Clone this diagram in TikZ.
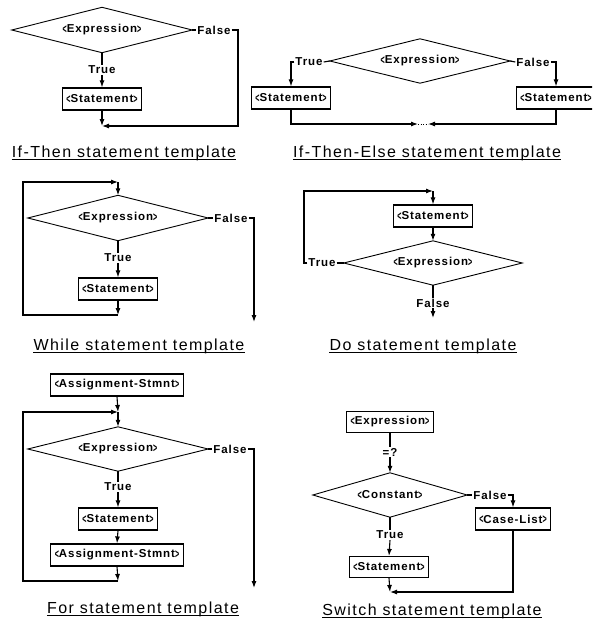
\documentclass[tikz,border=0pt]{standalone}
\usepackage{fontspec}
\usepackage{graphicx}
\setmainfont{Liberation Sans}
\newfontfamily\lblfont{Liberation Sans}[LetterSpace=8]
\newfontfamily\ttlfont{Liberation Sans}[LetterSpace=9]
\usetikzlibrary{arrows.meta}

% narrow, tall angle brackets round the placeholder names
\newcommand\lang{\raisebox{-0.3pt}{\scalebox{0.62}[1.12]{<}}}
\newcommand\rang{\raisebox{-0.3pt}{\scalebox{0.62}[1.12]{>}}}

\tikzset{
  lbl/.style={font=\lblfont\bfseries\fontsize{11.5}{13}\selectfont},
  stmt/.style={lbl, draw, line width=1.2pt, rectangle, inner xsep=4pt, inner ysep=0pt,
    minimum height=22pt},
  % decision: the box fixes the size, its side midpoints are the diamond's tips
  cond/.style={lbl, rectangle, inner sep=0pt, minimum width=180pt, minimum height=45pt},
  condline/.style={line width=0.9pt, line join=miter},
  tag/.style={lbl, inner sep=1pt},
  ttl/.style={font=\ttlfont\fontsize{16}{18}\selectfont, inner sep=0pt, anchor=base},
  flow/.style={line width=1.1pt},
  arr/.style={flow, -{Latex[length=7pt,width=5pt]}},
  uline/.style={line width=1pt},
}

\begin{document}
\begin{tikzpicture}[x=1pt,y=-1pt]
\useasboundingbox (0,0) rectangle (592,626);
\fill[white] (0,0) rectangle (592,626);
\clip (0,0) rectangle (592,626);

% ---------------- If-Then ----------------
\node[cond] (d1) at (102,30) {\lang Expression\rang};
\node[tag] (f1) at (214,30) {False};
\node[tag] (t1) at (102,70) {True};
\node[stmt] (s1) at (102,99) {\lang Statement\rang};
\coordinate (c1) at (238,30);
\coordinate (m1) at (102,126);
\draw[flow] (d1.east) -- (f1.west);
\draw[arr] (f1.east) -- (c1) -- (c1 |- m1) -- (m1);
\draw[flow] (d1.south) -- (t1.north);
\draw[arr] (t1.south) -- (s1.north);
\draw[arr] (s1.south) -- (m1);
\node[ttl] (ti1) at (124,157) {If-Then statement template};

% ---------------- If-Then-Else ----------------
\node[cond, minimum height=44pt] (d2) at (420,61) {\lang Expression\rang};
\node[tag] (t2) at (309,62) {True};
\node[tag] (f2) at (533,62) {False};
\node[stmt] (s2a) at (291,98) {\lang Statement\rang};
\node[stmt] (s2b) at (556,98) {\lang Statement\rang};
\coordinate (m2a) at (418,124);
\coordinate (m2b) at (428,124);
\draw[flow] (t2.east) -- (d2.west);
\draw[flow] (d2.east) -- (f2.west);
\draw[arr] (t2.west) -- (t2.west -| s2a.north) -- (s2a.north);
\draw[arr] (f2.east) -- (f2.east -| s2b.north) -- (s2b.north);
\draw[arr] (s2a.south) -- (s2a.south |- m2a) -- (m2a);
\draw[arr] (s2b.south) -- (s2b.south |- m2b) -- (m2b);
\draw[line width=0.5pt, dotted] (m2a) -- (m2b);
\node[ttl] (ti2) at (427,157) {If-Then-Else statement template};

% ---------------- While ----------------
\coordinate (j3) at (118,182);
\node[cond] (d3) at (118,218) {\lang Expression\rang};
\node[tag] (f3) at (231,218) {False};
\node[tag] (t3) at (118,258) {True};
\node[stmt] (s3) at (118,289) {\lang Statement\rang};
\coordinate (b3) at (118,315);
\coordinate (e3) at (254,322);
\draw[arr] (j3) -- (d3.north);
\draw[flow] (d3.east) -- (f3.west);
\draw[arr] (f3.east) -- (f3.east -| e3) -- (e3);
\draw[flow] (d3.south) -- (t3.north);
\draw[arr] (t3.south) -- (s3.north);
\draw[arr] (s3.south) -- (b3);
\draw[arr] (b3) -- (23,315) -- (23,182) -- (j3);
\node[ttl] (ti3) at (139,350) {While statement template};

% ---------------- Do ----------------
\coordinate (j4) at (433,191);
\node[stmt] (s4) at (433,216) {\lang Statement\rang};
\node[cond, minimum width=178pt, minimum height=44pt] (d4) at (433,263) {\lang Expression\rang};
\node[tag] (t4) at (322,263) {True};
\node[tag] (fl4) at (433,303) {False};
\coordinate (e4) at (433,318);
\draw[arr] (j4) -- (s4.north);
\draw[arr] (s4.south) -- (d4.north);
\draw[flow] (t4.east) -- (d4.west);
\draw[arr] (t4.west) -- (304,263) -- (304,191) -- (j4);
\draw[flow] (d4.south) -- (fl4.north);
\draw[arr] (fl4.south) -- (e4);
\node[ttl] (ti4) at (423,350) {Do statement template};

% ---------------- For ----------------
\node[stmt] (a5) at (117,385) {\lang Assignment-Stmnt\rang};
\coordinate (j5) at (118,412);
\node[cond, minimum height=44pt] (d5) at (118,449) {\lang Expression\rang};
\node[tag] (f5) at (230,449) {False};
\node[tag] (t5) at (118,487) {True};
\node[stmt] (s5) at (118,519) {\lang Statement\rang};
\node[stmt] (a5b) at (117,555) {\lang Assignment-Stmnt\rang};
\coordinate (b5) at (118,581);
\coordinate (e5) at (254,588);
\draw[arr] (a5.south) -- (j5);
\draw[arr] (j5) -- (d5.north);
\draw[flow] (d5.east) -- (f5.west);
\draw[arr] (f5.east) -- (f5.east -| e5) -- (e5);
\draw[flow] (d5.south) -- (t5.north);
\draw[arr] (t5.south) -- (s5.north);
\draw[arr] (s5.south) -- (a5b.north);
\draw[arr] (a5b.south) -- (b5);
\draw[arr] (b5) -- (23,581) -- (23,412) -- (j5);
\node[ttl] (ti5) at (143,613) {For statement template};

% ---------------- Switch ----------------
\node[stmt, minimum height=21pt] (e6) at (390,422) {\lang Expression\rang};
\node[tag] (q6) at (390,452) {=?};
\node[cond, minimum width=154pt, minimum height=44pt] (d6) at (390,495) {\lang Constant\rang};
\node[tag] (f6) at (490,495) {False};
\node[stmt] (c6) at (513,519) {\lang Case-List\rang};
\node[tag] (t6) at (390,535) {True};
\node[stmt, minimum height=21pt] (s6) at (389,567) {\lang Statement\rang};
\coordinate (m6) at (390,592);
\draw[flow] (e6.south) -- (q6.north);
\draw[arr] (q6.south) -- (d6.north);
\draw[flow] (d6.east) -- (f6.west);
\draw[arr] (f6.east) -- (f6.east -| c6.north) -- (c6.north);
\draw[arr] (c6.south) -- (c6.south |- m6) -- (m6);
\draw[flow] (d6.south) -- (t6.north);
\draw[arr] (t6.south) -- (s6.north);
\draw[arr] (s6.south) -- (m6);
\node[ttl] (ti6) at (432,615) {Switch statement template};

% diamond outlines of the decisions
\foreach \d in {d1,d2,d3,d4,d5,d6}
  \draw[condline] (\d.north) -- (\d.east) -- (\d.south) -- (\d.west) -- cycle;

% underlines of the template titles
\foreach \t in {ti1,ti2,ti3,ti4,ti5,ti6}
  \draw[uline] ([yshift=-2.5pt]\t.base west) -- ([yshift=-2.5pt]\t.base east);
\end{tikzpicture}
\end{document}
